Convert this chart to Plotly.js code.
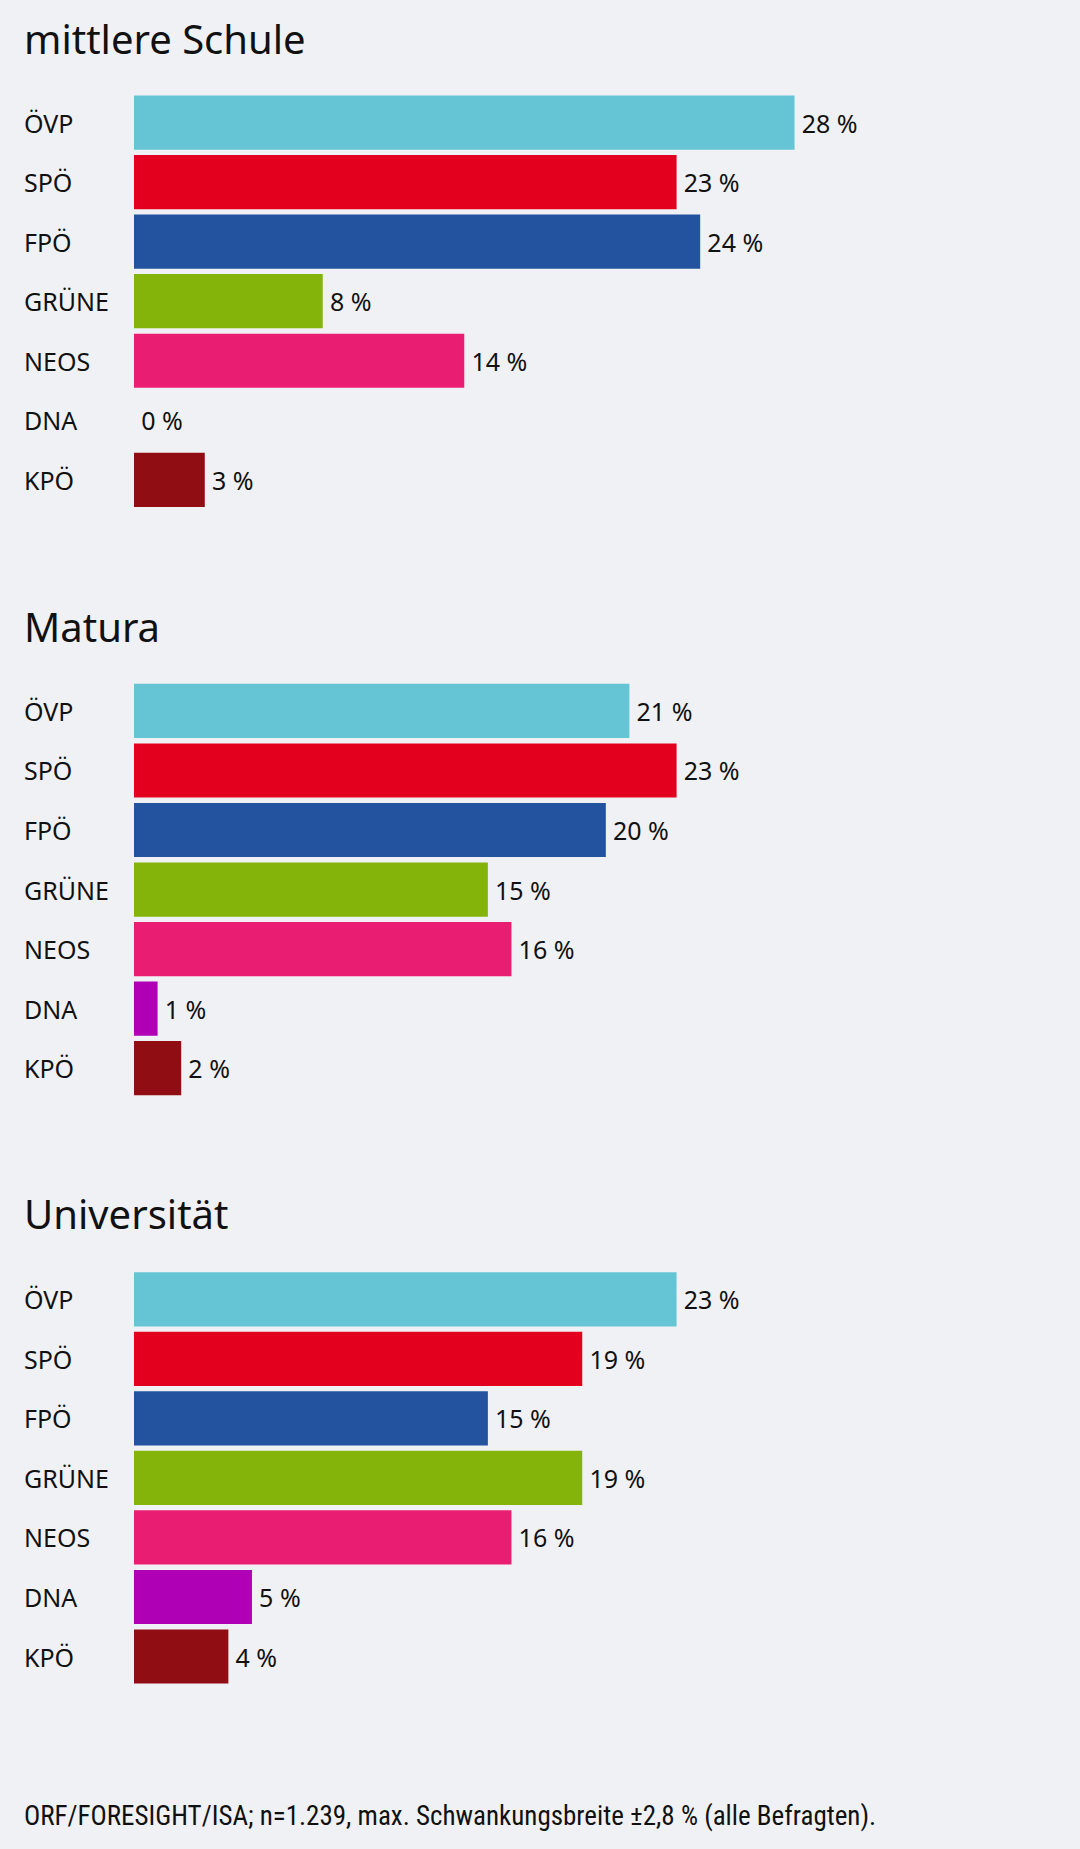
<!DOCTYPE html>
<html><head><meta charset="utf-8">
<script src="https://cdn.plot.ly/plotly-3.0.1.min.js"></script>
<style>body{margin:0;background:#f0f1f5}</style>
</head><body><div id="c" style="width:1080px;height:1849px"></div>
<script>
const parties = ["ÖVP","SPÖ","FPÖ","GRÜNE","NEOS","DNA","KPÖ"];
const colors = ["#66c5d4","#e3001f","#23539f","#84b40a","#e91e73","#b000b5","#8f0d13"];
const groups = ["mittlere Schule","Matura","Universität"];
const valsMittlere = [28,23,24,8,14,0,3];
const valsMatura = [21,23,20,15,16,1,2];
const valsUni = [23,19,15,19,16,5,4];
const allVals = [valsMittlere, valsMatura, valsUni];
const domains = [[0.7244,0.9498],[0.4062,0.6316],[0.0880,0.3134]];
const titleY = [38,626,1213];
const F = "'Noto Sans', 'Open Sans', sans-serif";
const data = [], annotations = [];
const layout = {width:1080,height:1849,margin:{l:0,r:0,t:0,b:0},
  paper_bgcolor:"#f0f1f5",plot_bgcolor:"#f0f1f5",showlegend:false,bargap:0.09,annotations};
allVals.forEach((v,i)=>{
  const s = i===0?"":String(i+1);
  data.push({type:"bar",orientation:"h",x:v,y:parties,marker:{color:colors},
    xaxis:"x"+s,yaxis:"y"+s,text:v.map(n=>"\u2009"+n+" %"),textposition:"outside",
    cliponaxis:false,textfont:{family:F,size:25,color:"#111"},hoverinfo:"skip"});
  layout["xaxis"+s]={domain:[134/1080,1],range:[0,40.1],visible:false,fixedrange:true};
  layout["yaxis"+s]={domain:domains[i],autorange:"reversed",visible:false,anchor:"x"+s};
  annotations.push({xref:"paper",yref:"paper",x:22/1080,y:1-titleY[i]/1849,xanchor:"left",yanchor:"middle",
    text:groups[i],showarrow:false,font:{family:F,size:40,color:"#111"}});
  parties.forEach(p=>annotations.push({xref:"paper",yref:"y"+s,x:22/1080,y:p,xanchor:"left",yanchor:"middle",
    text:p,showarrow:false,font:{family:F,size:25,color:"#111"}}));
});
annotations.push({xref:"paper",yref:"paper",x:22/1080,y:1-1816/1849,xanchor:"left",yanchor:"middle",
  text:"ORF/FORESIGHT/ISA; n=1.239, max. Schwankungsbreite ±2,8 % (alle Befragten).",showarrow:false,
  font:{family:"'Liberation Sans Narrow', 'Roboto Condensed', 'Noto Sans', sans-serif",size:27,color:"#111"}});
Plotly.newPlot("c",data,layout,{staticPlot:true});
</script></body></html>
